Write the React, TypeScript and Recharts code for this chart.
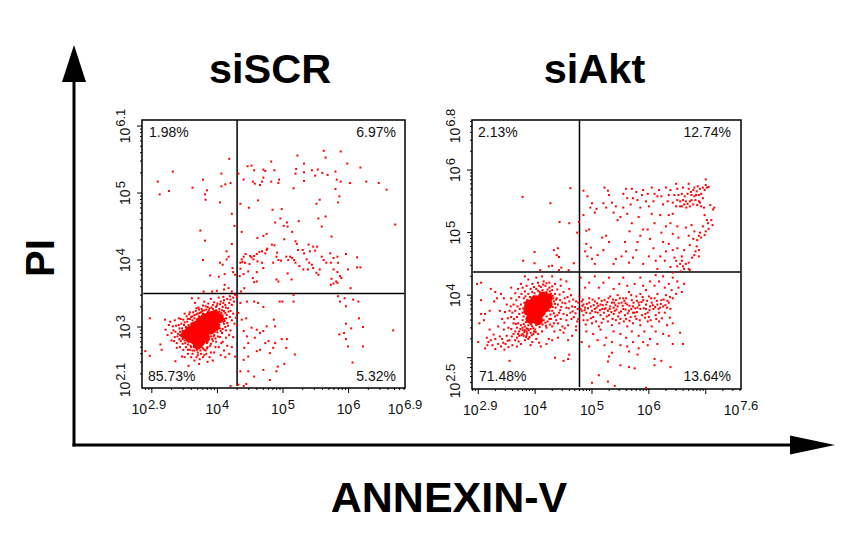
import React from "react";
import { ScatterChart, Scatter, XAxis, YAxis, ReferenceLine, ReferenceArea } from "recharts";

type Pt = [number, number];

// all values are log10 of fluorescence intensity
const scrCore: Pt[] = [[3.52,2.89],[3.58,2.94],[3.58,2.84],[3.66,3.01],[3.66,2.91],[3.66,2.81],[3.74,3.08],[3.74,2.99],[3.74,2.89],[3.74,2.79],[3.81,3.13],[3.81,3.03],[3.81,2.94],[3.81,2.84],[3.89,3.16],[3.89,3.06],[3.89,2.96],[3.96,3.18],[3.96,3.08],[3.96,3.01],[4.02,3.13],[3.7,2.74]];
const scrHalo: Pt[] = [[4.05,3.38],[4.1,3.4],[4.15,3.42],[4.2,3.41],[4.18,3.36],[4.12,3.33],[4.08,3.3],[4.22,3.33],[4.25,3.38],[4.16,3.28],[4.1,3.24],[4.2,3.24],[4.24,3.2],[4.06,3.21],[4.14,3.18],[4.19,3.15],[4.1,3.12],[4.05,3.08],[4.15,3.06],[4.22,3.1],[4.26,3.05],[4.12,3],[4.08,2.97],[4.2,2.95],[4.03,3.27],[3.98,3.3],[4,3.35],[3.93,3.33],[3.88,3.28],[3.85,3.3],[3.8,3.25],[3.75,3.22],[3.7,3.2],[3.65,3.18],[3.72,3.26],[3.6,3.15],[3.55,3.12],[3.62,3.1],[3.5,3.07],[3.45,3.05],[3.52,3],[3.42,2.98],[3.47,2.94],[3.37,3.02],[3.33,2.95],[3.4,2.9],[3.45,2.86],[3.35,2.85],[3.42,2.82],[3.5,2.8],[3.47,2.75],[3.55,2.74],[3.52,2.7],[3.6,2.7],[3.58,2.66],[3.65,2.65],[3.62,2.6],[3.7,2.62],[3.68,2.55],[3.75,2.6],[3.73,2.52],[3.8,2.58],[3.82,2.65],[3.85,2.7],[3.78,2.68],[3.9,2.75],[3.92,2.82],[3.95,2.88],[4,2.92],[3.98,2.78],[4.04,2.85],[4.08,2.78],[4.02,2.7],[4.1,2.65],[4.15,2.72],[4.18,2.6],[4.12,2.55],[4.05,2.58],[3.95,2.62],[3.88,2.55],[3.93,2.5],[3.85,2.48],[3.72,2.45],[3.65,2.5],[3.6,2.55],[3.55,2.6],[3.5,2.55],[3.61,3.43],[3.71,3.43],[4.27,3.48],[4.3,3.45],[2.97,3.13],[2.9,2.64],[2.97,2.57],[3.13,2.74],[3.15,2.66],[3.2,3.11],[3.21,2.96],[3.28,3.08],[3.36,2.49],[3.46,2.56],[3.56,2.42],[3.24,2.88],[3.3,2.8],[3.38,2.76],[3.44,3.12],[3.58,3.22],[3.68,3.28],[3.78,3.32],[3.92,3.22],[4.01,3.2],[3.46,2.98],[3.5,2.9],[3.55,2.82],[3.62,2.76],[3.68,2.7],[3.76,2.7],[3.84,2.76],[3.9,2.86],[4.04,2.98],[4.1,3.05],[4.08,3.17],[3.98,3.25],[3.85,3.22],[3.72,3.16],[3.6,3.05],[3.56,3.03],[3.52,2.96],[3.48,2.88],[3.65,3.13],[3.78,3.2],[4.28,3.14],[4.3,3.02],[4.24,2.85],[4.22,2.7],[4.27,2.56]];
// fringe right round the solid core
const scrFringe: Pt[] = [[3.41,3.03],[3.43,2.93],[3.39,2.86],[3.44,2.79],[3.48,3.11],[3.53,3.16],[3.57,3.19],[3.63,3.22],[3.67,3.24],[3.71,3.29],[3.76,3.27],[3.82,3.31],[3.86,3.35],[3.91,3.29],[3.95,3.37],[3.99,3.32],[4.04,3.34],[4.09,3.36],[4.13,3.29],[4.17,3.23],[4.13,3.13],[4.11,3.09],[4.16,3.02],[4.13,2.95],[4.07,2.91],[4.05,2.94],[4.01,2.86],[3.97,2.83],[3.93,2.79],[3.89,2.72],[3.84,2.68],[3.8,2.66],[3.74,2.65],[3.69,2.66],[3.64,2.7],[3.59,2.72],[3.56,2.78],[3.51,2.76],[3.47,2.82],[3.43,2.88],[3.49,3.03],[3.54,3.08],[3.58,3.12],[3.62,3.16],[3.68,3.19],[3.73,3.21],[3.77,3.24],[3.83,3.26],[3.87,3.25],[3.93,3.27],[4.03,3.23],[4.07,3.25],[4.12,3.21],[4.06,3.14],[4.09,3.08],[4.03,3.03],[3.99,2.96],[3.96,2.93],[3.94,2.86],[3.87,2.82],[3.85,2.78],[3.78,2.74],[3.71,2.68],[3.66,2.75],[3.6,2.78],[3.53,2.84],[3.36,2.93],[3.32,3.01],[3.3,2.91],[3.34,2.79],[3.38,2.69],[3.43,2.7],[3.48,2.66],[3.55,2.66],[3.62,2.65],[3.7,2.58],[3.78,2.55],[3.83,2.6],[3.9,2.62],[3.97,2.7],[4.06,2.76],[4.13,2.84],[4.18,2.88],[3.26,3.03],[3.35,3.1],[3.41,3.13],[3.5,3.2],[3.66,3.36],[3.8,3.38],[3.9,3.42],[4.02,3.44],[4.09,3.45],[4.19,3.46],[4.24,3.44]];
const scrUpper: Pt[] = [[3.09,5.17],[3.12,4.98],[3.26,5.03],[3.32,5.32],[3.62,5.08],[3.78,5.2],[3.84,5.04],[3.81,4.98],[3.82,4.9],[4.04,4.86],[4.06,5.29],[4.06,5.1],[4.12,5.13],[4.18,5.51],[4.2,5.15],[4.32,5.29],[4.35,4.84],[4.4,5.2],[4.46,5.4],[4.52,5.41],[4.56,5.34],[4.54,5.17],[4.57,5.14],[4.48,4.78],[4.62,4.89],[4.7,5.35],[4.73,5.33],[4.7,5.23],[4.68,5.17],[4.65,5.12],[4.82,5.47],[4.87,5.34],[4.82,5.17],[4.94,5.2],[4.93,5.15],[5.22,5.56],[5.32,5.44],[5.2,5.36],[5.19,5.29],[5.32,5.31],[5.32,5.18],[5.16,5.07],[5.44,5.34],[5.53,5.35],[5.49,5.26],[5.62,5.63],[5.65,5.53],[5.6,5.3],[5.68,5.27],[5.88,5.62],[5.98,5.44],[6.18,5.38],[5.8,5.32],[5.82,5.2],[5.88,5.17],[6.02,5.15],[5.8,5.06],[5.86,4.95],[6.27,5.17],[6.46,5.15],[6.58,5.05],[6.71,4.53],[5.56,4.9],[5.51,4.84],[5.84,4.86],[4.84,4.75],[4.98,4.76],[4.96,4.62],[4.88,4.56],[5.01,4.51],[5.06,4.56],[5.14,4.42],[5.07,4.5],[5.24,4.58],[5.54,4.62],[5.65,4.65],[5.59,4.5],[5.74,4.35],[5.02,4.31],[4.75,4.39],[4.7,4.36],[4.61,4.33],[4.37,4.42],[4.22,4.69],[4.26,4.51],[4.22,4.24],[3.74,4.44],[3.81,4.29],[3.78,4]];
const scrBand: Pt[] = [[4.14,4.13],[4.17,4.05],[4.14,4.01],[4.04,3.96],[4.08,3.93],[4.23,3.88],[4.24,3.82],[4.11,3.79],[4.27,3.78],[3.89,3.77],[4.02,3.75],[4.11,3.63],[4.17,3.58],[4.22,3.53],[4.1,3.56],[3.99,3.54],[3.92,3.53],[3.79,3.53],[4.35,3.96],[4.38,3.97],[4.4,4.05],[4.43,4.09],[4.37,4.01],[4.42,3.96],[4.5,4.06],[4.52,4.04],[4.56,4.06],[4.55,4.01],[4.49,3.94],[4.6,4.09],[4.64,4.12],[4.68,4.13],[4.61,3.98],[4.68,3.96],[4.7,3.88],[4.6,3.82],[4.47,3.83],[4.35,3.87],[4.34,3.76],[4.4,3.79],[4.54,3.73],[4.56,3.67],[4.6,3.68],[4.41,3.58],[4.36,3.53],[4.75,4.15],[4.73,4.1],[4.83,4.23],[4.87,4.22],[4.76,4.17],[4.91,4.11],[4.9,4.05],[4.93,4],[4.85,3.96],[4.97,3.99],[4.9,3.71],[4.93,3.68],[5.07,3.8],[5.13,3.71],[5.05,4.05],[5.11,4.05],[5.14,4.03],[5.08,4],[5.17,4],[5.19,4.28],[5.21,4.24],[5.23,4.15],[5.19,3.96],[5.25,3.91],[5.31,3.86],[5.32,4.1],[5.3,4.15],[5.39,4.23],[5.46,4.2],[5.52,4.2],[5.49,4.14],[5.41,4.13],[5.36,4.01],[5.4,3.96],[5.38,3.86],[5.44,3.93],[5.46,3.88],[5.51,3.81],[5.54,3.78],[5.56,3.86],[5.59,4.05],[5.62,4],[5.66,3.96],[5.72,4.1],[5.73,3.96],[5.77,4.03],[5.83,4.05],[5.84,3.96],[5.77,3.86],[5.83,3.82],[5.87,3.76],[5.89,3.73],[5.74,3.72],[5.77,3.65],[5.81,3.68],[5.83,3.66],[5.73,3.63],[5.99,3.86],[5.96,4.09],[6.13,4.04],[6.13,3.89],[6.18,3.89],[6.03,3.58]];
const scrLower: Pt[] = [[4.35,3.36],[4.45,3.38],[4.56,3.38],[4.62,3.36],[4.7,3.3],[4.95,3.38],[4.99,3.38],[5.16,3.48],[5.16,3.38],[5.84,3.46],[5.87,3.38],[5.94,3.43],[5.96,3.31],[6.07,3.41],[6.15,3.38],[6.16,3.13],[5.96,3.05],[6.04,2.98],[6.22,3],[6.68,2.95],[5.86,2.89],[5.93,2.91],[5.96,2.82],[5.99,2.71],[6.22,2.71],[6.06,2.47],[4.32,3.21],[4.37,3.11],[4.4,2.94],[4.44,3.13],[4.52,2.99],[4.6,2.96],[4.57,2.84],[4.47,2.76],[4.41,2.69],[4.45,2.86],[4.65,2.91],[4.7,2.94],[4.75,3.01],[4.86,3.11],[4.88,3.01],[4.73,2.76],[4.78,2.79],[4.65,2.66],[4.6,2.64],[4.85,2.69],[4.88,2.76],[4.98,2.82],[5.06,2.82],[5.05,2.69],[5.18,2.59],[4.8,2.61],[4.4,2.51],[4.47,2.56],[4.7,2.36],[4.8,2.21],[4.92,2.41],[5.02,2.45],[4.9,2.34],[4.35,2.34],[4.47,2.34],[4.56,2.26],[4.32,2.14],[4.44,2.15],[4.4,2.12],[4.2,2.12]];

const aktCore: Pt[] = [[3.92,3.62],[3.95,3.72],[3.88,3.75],[3.9,3.85],[3.98,3.65],[4,3.75],[3.97,3.84],[4.05,3.68],[4.06,3.78],[4.03,3.87],[4.1,3.73],[4.12,3.82],[4.08,3.92],[4.16,3.8],[4.18,3.9],[4.14,3.98],[4.22,3.85],[4.22,3.95],[4.05,3.6],[4,3.92]];
const aktHalo: Pt[] = [[3.8,3.95],[3.75,3.85],[3.72,3.7],[3.78,3.6],[3.83,3.98],[3.88,4.02],[3.95,4.05],[4.02,4.1],[4.1,4.13],[4.18,4.15],[4.25,4.12],[4.3,4.08],[4.35,4.02],[4.38,3.95],[4.33,3.9],[4.4,3.85],[4.36,3.8],[4.3,3.75],[4.42,3.72],[4.35,3.66],[4.28,3.62],[4.2,3.66],[4.22,3.58],[4.15,3.6],[4.1,3.55],[4.02,3.52],[3.95,3.5],[3.88,3.52],[3.82,3.5],[3.75,3.52],[3.7,3.55],[3.68,3.65],[3.65,3.75],[3.62,3.85],[3.58,3.95],[3.65,4.03],[3.7,4.1],[3.78,4.12],[3.85,4.15],[3.95,4.18],[4.05,4.2],[4.15,4.22],[4.25,4.2],[4.35,4.18],[4.45,4.15],[4.5,4.05],[4.52,3.95],[4.48,3.88],[4.55,3.8],[4.5,3.7],[4.45,3.62],[4.55,3.6],[4.6,3.9],[4.65,3.82],[4.62,3.72],[4.68,3.65],[4.72,3.9],[4.75,3.78],[4.58,3.52],[4.48,3.5],[4.4,3.55],[4.3,3.5],[4.2,3.48],[4.12,3.42],[4.05,3.38],[3.98,3.42],[3.92,3.4],[3.85,3.42],[3.78,3.44],[3.72,3.42],[3.68,3.48],[3.62,3.55],[3.58,3.65],[3.55,3.75],[3.5,3.85],[3.45,3.95],[3.4,4.02],[3.33,3.95],[3.28,3.9],[3.3,4.05],[3.22,4.1],[3.2,3.75],[3.12,3.7],[3.05,3.7],[3.02,3.55],[3.1,3.6],[3.2,3.45],[3.18,3.25],[3.12,3.15],[3,3.25],[3.15,3.32],[3.05,4.2],[2.98,4.18],[3.05,3.92],[3.38,3.75],[3.42,3.62],[3.35,3.5],[3.45,3.45],[3.5,3.35],[3.42,3.3],[3.35,3.22],[3.3,3.3],[3.25,3.2],[3.4,3.18],[3.48,3.22],[3.55,3.28],[3.6,3.2],[3.68,3.18],[3.75,3.22],[3.82,3.28],[3.88,3.3],[3.95,3.25],[4.02,3.3],[4.1,3.18],[4.2,3.22],[4.3,3.28],[4.4,3.32],[4.5,3.4],[4.58,3.28],[4.65,3.35],[3.72,3.35],[3.8,3.35],[3.85,3.36],[3.9,3.33],[3.78,3.38],[3.68,3.32],[3.62,3.38],[3.92,3.46],[4,3.45],[3.78,3.48],[3.85,3.47],[4.5,2.95],[4.58,2.98],[4.6,3.05],[4.35,3],[3.55,2.95],[3.58,4.12],[3.75,4.18],[3.88,4.25],[4.02,4.28],[4.12,4.3],[4.3,4.3],[4.45,4.25],[3.82,4.3],[4.55,4.22],[4.6,4.1],[3.9,3.6],[3.78,3.72],[3.82,3.82],[3.85,3.62],[3.8,3.54],[4.25,3.75],[4.28,3.85],[4.32,3.95],[4.28,4.02],[4.2,4.05],[4.08,4.05],[3.98,3.98]];
// fringe of the core and the smaller clump under it
const aktFringe: Pt[] = [[3.81,3.88],[3.79,3.79],[3.83,3.71],[3.8,3.66],[3.84,3.57],[3.87,3.46],[3.93,3.53],[3.97,3.47],[4.03,3.56],[4.08,3.49],[4.13,3.53],[4.18,3.56],[4.25,3.62],[4.27,3.69],[4.33,3.71],[4.31,3.81],[4.35,3.86],[4.37,3.93],[4.31,3.99],[4.26,4.06],[4.22,4.09],[4.13,4.08],[4.05,4.07],[3.99,4.03],[3.91,3.97],[3.86,3.92],[3.73,3.78],[3.69,3.82],[3.67,3.92],[3.72,3.97],[3.76,4.02],[3.82,4.06],[3.92,4.1],[3.98,4.13],[4.07,4.15],[4.14,4.17],[4.2,4.19],[4.3,4.14],[4.39,4.09],[4.43,4.01],[4.44,3.92],[4.46,3.81],[4.44,3.76],[4.39,3.68],[4.37,3.6],[4.33,3.55],[4.26,3.53],[4.19,3.51],[3.82,3.44],[3.86,3.39],[3.89,3.44],[3.94,3.36],[3.97,3.38],[4.01,3.41],[3.84,3.33],[3.81,3.41],[3.76,3.36],[3.74,3.46],[3.7,3.38],[3.65,3.42],[3.66,3.54],[3.63,3.62],[3.6,3.72],[3.57,3.82],[3.52,3.63],[3.47,3.73],[3.46,3.56],[3.53,3.48],[3.58,3.46],[3.59,3.34],[3.65,3.28],[3.71,3.26],[3.53,3.17],[3.46,3.13],[3.38,3.34],[3.27,3.37],[3.22,3.28],[3.16,3.2],[3.3,3.14],[3.44,3.24],[3.52,3.27],[3.92,3.2],[4.07,3.24],[4.24,3.3],[4.34,3.42],[4.44,3.44],[4.52,3.47],[4.56,3.68],[4.59,3.79],[4.64,3.62],[4.66,3.74],[4.7,3.81],[4.71,3.71],[4.74,3.58],[4.72,3.44],[4.53,3.87],[4.57,3.97],[4.63,4],[4.67,3.93],[4.76,3.88]];
const aktUpper: Pt[] = [[3.78,5.57],[4.27,5.47],[4.62,5.71],[4.43,5.17],[4.6,5.15],[4.77,5.17],[4.74,5],[3.99,4.69],[4.33,4.72],[4.4,4.75],[4.38,4.64],[4.42,4.61],[3.79,4.55],[3.99,4.51],[4.24,4.46],[4.3,4.47],[4.46,4.44],[4.42,4.4],[4.09,4.4],[4.59,4.4],[4.68,4.51],[4.85,5.67],[4.92,5.58],[5,5.47],[5.05,5.32],[5.08,5.38],[4.97,5.4],[4.85,5.28],[4.9,5.03],[4.95,5.05],[4.9,4.82],[4.88,4.7],[4.92,4.62],[4.98,4.76],[5,4.58],[5.05,4.5],[5.1,4.64],[5.2,4.72],[5.18,4.92],[5.25,4.95],[5.3,4.85],[5.2,5.47],[5.25,5.4],[5.22,5.72],[5.28,5.67],[5.3,5.6],[5.35,5.48],[5.42,5.42],[5.38,5.32],[5.45,5.2],[5.55,5.62],[5.6,5.7],[5.62,5.55],[5.55,5.4],[5.5,5.25],[5.62,5.3],[5.7,5.7],[5.72,5.55],[5.68,5.45],[5.7,5.15],[5.66,5.02],[5.58,4.85],[5.6,4.7],[5.52,4.62],[5.42,4.58],[5.38,4.5],[5.65,4.52],[5.72,4.6],[5.78,4.72],[5.8,4.85],[5.85,4.95],[5.9,5.05],[5.82,5.25],[5.85,5.4],[5.8,5.52],[5.88,5.6],[5.78,5.65],[5.9,5.68],[5.98,5.62],[5.95,5.5],[6,5.42],[6.05,5.3],[6.1,5.15],[5.98,5.05],[6.02,4.9],[6.08,4.75],[6,4.62],[5.9,4.5],[6.12,4.55],[6.2,4.62],[6.15,4.42],[6.25,4.85],[6.22,5],[6.3,5.1],[6.2,5.28],[6.25,5.45],[6.15,5.58],[6.18,5.68],[6.22,5.58],[6.3,5.72],[6.05,5.72],[6.1,5.62],[6.08,5.5],[6.35,5.6],[6.38,5.68],[6.33,5.5],[6.35,5.28],[6.38,5.15],[6.42,4.98],[6.35,4.82],[6.3,4.7],[6.28,4.55],[6.42,4.72],[6.38,4.45],[6.45,4.6],[6.5,4.75],[6.52,4.92],[6.5,5.1],[6.42,5.3]];
const aktTop: Pt[] = [[6.42,5.48],[6.45,5.6],[6.48,5.42],[6.5,5.52],[6.52,5.6],[6.5,5.7],[6.55,5.5],[6.55,5.42],[6.58,5.62],[6.6,5.52],[6.62,5.45],[6.6,5.72],[6.63,5.58],[6.65,5.5],[6.66,5.4],[6.68,5.62],[6.7,5.7],[6.72,5.5],[6.72,5.42],[6.75,5.6],[6.75,5.52],[6.78,5.68],[6.78,5.45],[6.8,5.58],[6.8,5.72],[6.82,5.52],[6.84,5.66],[6.85,5.44],[6.86,5.74],[6.88,5.6],[6.88,5.5],[6.9,5.7],[6.92,5.62],[6.92,5.42],[6.95,5.55],[6.95,5.72],[6.98,5.68],[7,5.76],[7.02,5.72],[7.05,5.73],[7,5.85],[6.7,5.78],[6.48,5.78],[6.58,5.42],[6.68,5.46],[6.74,5.65],[6.83,5.6],[6.9,5.48],[6.97,5.4],[7.08,5.44],[7.15,5.4],[7.13,5.37],[6.98,5.28],[7.02,5.2],[7.04,5.15],[7.1,5.2],[7.12,5.12],[7,5.02],[7.05,5.06],[6.95,5.1],[6.9,5],[6.92,4.92],[6.98,4.96],[6.85,4.88],[6.88,4.95],[6.8,5.02],[6.78,4.9],[6.84,4.78],[6.88,4.72],[6.82,4.7],[6.88,4.62],[6.8,4.64],[6.76,4.6],[6.72,4.8],[6.7,4.95],[6.65,5.08],[6.75,5.12],[6.62,4.72],[6.58,4.62],[6.7,4.52],[6.65,4.5],[6.6,4.46],[6.55,4.5],[6.5,4.46],[6.62,4.42],[6.7,4.42],[6.58,4.55],[6.48,4.55],[6.72,4.4],[6.56,4.38],[6.42,4.36]];
const aktLower: Pt[] = [[4.78,3.98],[4.82,3.9],[4.85,3.85],[4.8,3.78],[4.88,3.8],[4.9,3.72],[4.95,3.88],[4.98,3.82],[5,3.75],[4.85,3.68],[4.92,3.6],[5.02,3.65],[5.05,3.9],[5.08,3.8],[5.1,3.72],[5.12,3.95],[5.15,3.85],[5.18,3.78],[5.15,3.68],[5.2,3.62],[5.22,3.92],[5.25,3.85],[5.28,3.75],[5.3,3.68],[5.32,3.98],[5.35,3.88],[5.38,3.8],[5.38,3.7],[5.42,3.92],[5.45,3.82],[5.48,3.72],[5.5,3.62],[5.45,4],[5.52,3.88],[5.55,3.78],[5.58,3.68],[5.6,3.95],[5.62,3.85],[5.65,3.75],[5.68,3.65],[5.65,4.05],[5.7,3.92],[5.72,3.82],[5.75,3.72],[5.78,3.62],[5.78,3.98],[5.82,3.88],[5.85,3.78],[5.88,3.68],[5.85,4.02],[5.9,3.92],[5.95,3.85],[5.98,3.72],[6,3.65],[5.95,4.08],[6,3.98],[6.05,3.88],[6.08,3.78],[6.12,3.68],[6.1,3.95],[6.15,3.85],[6.18,3.72],[6.15,4.02],[6.22,3.92],[6.25,3.82],[6.28,3.72],[6.3,4],[6.35,3.88],[6.38,3.78],[6.42,3.95],[6.4,4.08],[6.48,4.02],[6.52,4.12],[6.58,4.05],[6.62,4.18],[6.5,4.22],[6.35,4.18],[6.28,4.12],[6.42,4.28],[6.25,4.3],[6.18,4.22],[6.1,4.15],[6.12,4.32],[6.02,4.22],[5.9,4.15],[5.85,4.28],[5.75,4.18],[5.62,4.15],[5.55,4.28],[5.48,4.18],[5.38,4.1],[5.3,4.28],[5.2,4.2],[5.12,4.12],[5.05,4.3],[4.95,4.2],[4.88,4.12],[4.8,4.28],[4.85,3.6],[5,3.55],[5.12,3.5],[5.28,3.58],[5.35,3.52],[5.48,3.55],[5.62,3.5],[5.72,3.55],[5.85,3.52],[5.98,3.58],[6.05,3.5],[6.18,3.58],[6.32,3.52],[6.42,3.55],[4.9,3.42],[5.02,3.38],[5.15,3.45],[5.25,3.32],[5.38,3.42],[5.5,3.38],[5.6,3.32],[5.7,3.42],[5.82,3.35],[5.92,3.42],[6.02,3.3],[6.12,3.42],[6.25,3.38],[6.35,3.35],[4.82,3.25],[4.95,3.18],[5.1,3.28],[5.22,3.2],[5.35,3.25],[5.5,3.2],[5.62,3.18],[5.72,3.25],[5.82,3.15],[5.9,3.25],[5.98,3.2],[6.15,3.22],[5.65,3.1],[5.8,3.05],[5.5,2.88],[5.3,3.02],[5.28,2.94],[5.35,3.08],[5.65,2.85],[5.75,2.83],[6.1,2.98],[6.22,2.95],[6.1,2.88],[5.28,2.62],[5.12,2.72],[5,2.6],[5.4,2.55],[5.95,2.52],[6.38,2.85],[6.6,3.22],[6.55,3.4],[6.42,3.22],[4.82,3.75],[4.76,3.62],[4.72,3.5],[4.95,3.95],[5.05,3.78],[5.22,3.78],[5.32,3.82],[5.4,3.75],[5.55,3.95],[5.72,3.72],[5.8,3.8],[5.95,3.78],[6.02,3.82],[6.2,3.8],[6.32,3.8],[5.6,3.62],[5.42,3.6]];
// the band is thickest just under 10^4, these sit off the rows above
const aktBandExtra: Pt[] = [[4.83,3.83],[4.87,3.76],[4.93,3.79],[4.97,3.71],[5.03,3.84],[5.06,3.73],[5.11,3.83],[5.14,3.76],[5.17,3.91],[5.21,3.72],[5.24,3.79],[5.27,3.89],[5.31,3.78],[5.34,3.73],[5.37,3.93],[5.41,3.84],[5.43,3.77],[5.47,3.87],[5.51,3.74],[5.54,3.83],[5.57,3.91],[5.59,3.77],[5.63,3.71],[5.66,3.83],[5.69,3.78],[5.73,3.88],[5.76,3.79],[5.79,3.73],[5.83,3.84],[5.87,3.89],[5.91,3.79],[5.94,3.7],[5.97,3.91],[6.01,3.76],[6.04,3.95],[6.07,3.84],[6.11,3.81],[6.14,3.91],[6.17,3.78],[6.21,3.86],[6.26,3.93],[6.29,3.84],[6.33,3.91],[6.37,3.97],[4.84,3.93],[4.91,3.86],[5.01,3.93],[5.09,3.87],[5.19,3.84],[5.29,3.95],[5.39,3.88],[5.49,3.95],[5.59,3.87],[5.69,4],[5.79,3.91],[5.89,3.97],[4.89,3.53],[4.98,3.63],[5.07,3.58],[5.17,3.56],[5.26,3.66],[5.36,3.62],[5.46,3.66],[5.56,3.58],[5.66,3.59],[5.76,3.66],[5.84,3.6],[5.93,3.64],[6.03,3.6],[6.13,3.62],[6.23,3.63],[6.37,3.64]];

const xLabelsScr: [number, string][] = [[3, "2.9"], [4, "4"], [5, "5"], [6, "6"], [6.86, "6.9"]];
const yLabelsScr: [number, string][] = [[2.09, "2.1"], [3, "3"], [4, "4"], [5, "5"], [6.09, "6.1"]];
const xLabelsAkt: [number, string][] = [[3, "2.9"], [4, "4"], [5, "5"], [6, "6"], [7.62, "7.6"]];
const yLabelsAkt: [number, string][] = [[2.5, "2.5"], [4, "4"], [5, "5"], [6, "6"], [6.8, "6.8"]];

const FONT = "'Liberation Sans', Arial, sans-serif";
const RED = "#ff0000";

const logTicks = (lo: number, hi: number) => {
  const out: number[] = [];
  for (let d = Math.floor(lo); d <= Math.ceil(hi); d++) {
    for (let k = 1; k < 10; k++) {
      const v = d + Math.log10(k);
      if (v >= lo && v <= hi) out.push(v);
    }
  }
  return out;
};

const Dot = (p: any) => <rect x={p.cx - 1} y={p.cy - 1} width={2} height={2} fill={RED} />;
const Blob = (p: any) => <circle cx={p.cx} cy={p.cy} r={5} fill={RED} />;

const toRows = (pts: Pt[]) => pts.map(([x, y]) => ({ x, y }));

function Power({ exp }: { exp: string }) {
  return (
    <>
      <tspan fontSize={14}>10</tspan>
      <tspan fontSize={13} dx={1} dy={-5}>{exp}</tspan>
    </>
  );
}

type PanelProps = {
  left: number;
  top: number;
  plotW: number;
  plotH: number;
  xDomain: [number, number];
  yDomain: [number, number];
  xLabels: [number, string][];
  yLabels: [number, string][];
  gate: [number, number];
  core: Pt[];
  dots: Pt[];
};

const PAD_L = 42;
const PAD_T = 20;
const PAD_R = 36;
const PAD_B = 52;

function Panel({ left, top, plotW, plotH, xDomain, yDomain, xLabels, yLabels, gate, core, dots }: PanelProps) {
  const xTicks = Array.from(new Set([...logTicks(xDomain[0], xDomain[1]), ...xLabels.map((l) => l[0])]));
  const yTicks = Array.from(new Set([...logTicks(yDomain[0], yDomain[1]), ...yLabels.map((l) => l[0])]));
  const bottom = PAD_T + plotH;

  const xTick = (p: any) => {
    const v = p.payload.value;
    const lab = xLabels.find((l) => l[0] === v);
    const major = Number.isInteger(v);
    const atEnd = v === xDomain[1];
    return (
      <g>
        {!atEnd && <line x1={p.x} x2={p.x} y1={bottom} y2={bottom + (major ? 5 : 2)} stroke="#000" strokeWidth={1} />}
        {lab && (
          <text x={p.x + (v === 3 ? (plotW > 265 ? 2 : -3) : 0)} y={bottom + 26} textAnchor="middle" fontFamily={FONT} fill="#111">
            <Power exp={lab[1]} />
          </text>
        )}
      </g>
    );
  };

  const yTick = (p: any) => {
    const v = p.payload.value;
    const lab = yLabels.find((l) => l[0] === v);
    const major = Number.isInteger(v);
    const shift = v === yDomain[1] ? 6 : v === yDomain[0] ? -8 : 0;
    const atEnd = v === yDomain[1] || v === yDomain[0];
    return (
      <g>
        {!atEnd && <line x1={PAD_L} x2={PAD_L - (major ? 5 : 2)} y1={p.y} y2={p.y} stroke="#000" strokeWidth={1} />}
        {lab && (
          <text
            transform={`translate(${PAD_L - 12},${p.y + shift}) rotate(-90)`}
            textAnchor="middle"
            fontFamily={FONT}
            fill="#111"
          >
            <Power exp={lab[1]} />
          </text>
        )}
      </g>
    );
  };

  return (
    <div style={{ position: "absolute", left, top }}>
      <ScatterChart
        width={PAD_L + plotW + PAD_R}
        height={PAD_T + plotH + PAD_B}
        margin={{ top: PAD_T, right: PAD_R, left: 0, bottom: 0 }}
      >
        <XAxis
          type="number"
          dataKey="x"
          domain={xDomain}
          ticks={xTicks}
          interval={0}
          height={PAD_B}
          tick={xTick}
          tickLine={false}
          axisLine={false}
          allowDataOverflow
        />
        <YAxis
          type="number"
          dataKey="y"
          domain={yDomain}
          ticks={yTicks}
          interval={0}
          width={PAD_L}
          tick={yTick}
          tickLine={false}
          axisLine={false}
          allowDataOverflow
        />
        <Scatter data={toRows(core)} shape={Blob} isAnimationActive={false} />
        <Scatter data={toRows(dots)} shape={Dot} isAnimationActive={false} />
        <ReferenceArea x1={xDomain[0]} x2={xDomain[1]} y1={yDomain[0]} y2={yDomain[1]} fill="none" stroke="#000" strokeWidth={1.5} />
        <ReferenceLine
          segment={[{ x: gate[0], y: yDomain[0] + 0.03 }, { x: gate[0], y: yDomain[1] }]}
          stroke="#000"
          strokeWidth={1.5}
        />
        <ReferenceLine
          segment={[{ x: xDomain[0] + 0.02, y: gate[1] }, { x: xDomain[1] - 0.01, y: gate[1] }]}
          stroke="#000"
          strokeWidth={1.5}
        />
      </ScatterChart>
    </div>
  );
}

const pct = (x: number, y: number, text: string, right = false) => (
  <text x={x} y={y} fontSize={14} textAnchor={right ? "end" : "start"} fontFamily={FONT} fill="#111">
    {text}
  </text>
);

export default function App() {
  return (
    <div style={{ position: "absolute", left: 0, top: 0, width: 861, height: 554, background: "#fff", overflow: "hidden" }}>
      <Panel
        left={100}
        top={100}
        plotW={263}
        plotH={268}
        xDomain={[2.85, 6.86]}
        yDomain={[2.09, 6.09]}
        xLabels={xLabelsScr}
        yLabels={yLabelsScr}
        gate={[4.3, 3.5]}
        core={scrCore}
        dots={[...scrHalo, ...scrFringe, ...scrUpper, ...scrBand, ...scrLower]}
      />
      <Panel
        left={430}
        top={100}
        plotW={269}
        plotH={269}
        xDomain={[2.89, 7.62]}
        yDomain={[2.5, 6.8]}
        xLabels={xLabelsAkt}
        yLabels={yLabelsAkt}
        gate={[4.78, 4.37]}
        core={aktCore}
        dots={[...aktHalo, ...aktFringe, ...aktUpper, ...aktTop, ...aktLower, ...aktBandExtra]}
      />
      <svg width={861} height={554} style={{ position: "absolute", left: 0, top: 0, pointerEvents: "none" }}>
        <line x1={74} y1={80} x2={74} y2={446.5} stroke="#000" strokeWidth={3} />
        <polygon points="74,45 62,82 86,82" fill="#000" />
        <line x1={72.5} y1={445} x2={792} y2={445} stroke="#000" strokeWidth={3} />
        <polygon points="835,445 790,435.5 790,454.5" fill="#000" />
        <text x={270} y={83} fontSize={41.5} fontWeight="bold" textAnchor="middle" fontFamily={FONT}>siSCR</text>
        <text x={594.5} y={83} fontSize={41.5} fontWeight="bold" textAnchor="middle" fontFamily={FONT}>siAkt</text>
        <text x={449} y={512} fontSize={43} fontWeight="bold" textAnchor="middle" fontFamily={FONT}>ANNEXIN-V</text>
        <text transform="translate(54,258) rotate(-90)" fontSize={40} fontWeight="bold" textAnchor="middle" fontFamily={FONT}>PI</text>
        {pct(149, 137, "1.98%")}
        {pct(396, 137, "6.97%", true)}
        {pct(148, 381, "85.73%")}
        {pct(396, 381, "5.32%", true)}
        {pct(478, 137, "2.13%")}
        {pct(731, 137, "12.74%", true)}
        {pct(479, 381, "71.48%")}
        {pct(731, 381, "13.64%", true)}
      </svg>
    </div>
  );
}
